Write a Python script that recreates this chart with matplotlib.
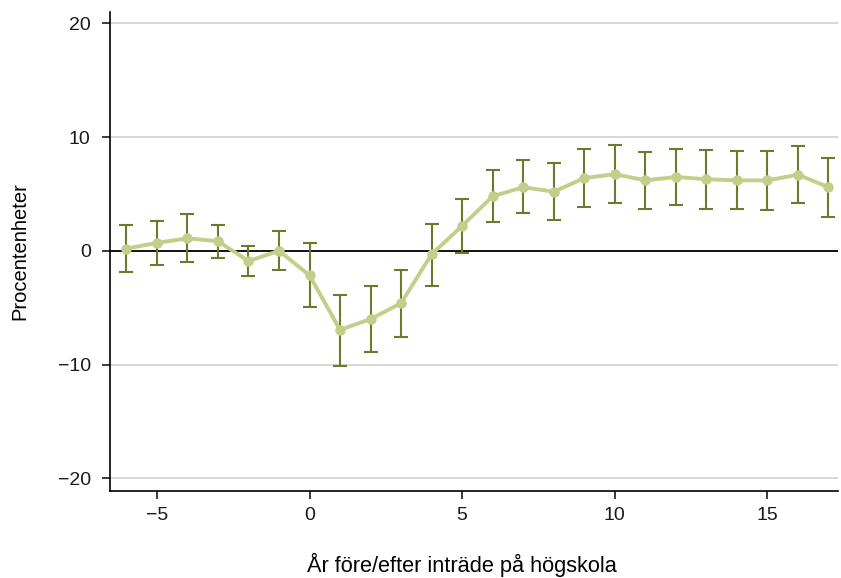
import matplotlib.pyplot as plt
import matplotlib

matplotlib.rcParams.update({'font.size': 14, 'font.family': ['Liberation Sans', 'DejaVu Sans']})

# Data
years = [-6, -5, -4, -3, -2, -1, 0, 1, 2, 3, 4, 5, 6, 7, 8, 9, 10, 11, 12, 13, 14, 15, 16, 17]
estimate = [0.2, 0.7, 1.1, 0.85, -0.9, 0.0, -2.15, -6.95, -6.0, -4.6, -0.3, 2.2, 4.8, 5.6,
            5.2, 6.4, 6.75, 6.2, 6.5, 6.3, 6.2, 6.2, 6.7, 5.6]
ci_upper = [2.3, 2.65, 3.2, 2.3, 0.47, 1.72, 0.7, -3.9, -3.1, -1.7, 2.4, 4.6, 7.1, 7.95,
            7.7, 8.95, 9.35, 8.7, 9.0, 8.9, 8.75, 8.8, 9.2, 8.2]
ci_lower = [-1.9, -1.26, -1.0, -0.65, -2.2, -1.68, -4.9, -10.1, -8.9, -7.6, -3.05, -0.2, 2.5, 3.35,
            2.7, 3.85, 4.25, 3.7, 4.05, 3.7, 3.65, 3.6, 4.2, 3.0]

yticks = [-20, -10, 0, 10, 20]
xticks = [-5, 0, 5, 10, 15]

fig = plt.figure(figsize=(8.41, 5.78), dpi=100)
ax = fig.add_axes([0.131, 0.151, 0.865, 0.829])

# grid lines
for t in yticks:
    if t != 0:
        ax.axhline(t, color='#d8d4cf', lw=1.3, zorder=0)
ax.axhline(0, color='black', lw=1.3, zorder=1)

err_low = [e - l for e, l in zip(estimate, ci_lower)]
err_high = [u - e for e, u in zip(estimate, ci_upper)]
ax.errorbar(years, estimate, yerr=[err_low, err_high], fmt='none',
            ecolor='#6b7a2c', elinewidth=1.5, capsize=5, capthick=1.5, zorder=2)
ax.plot(years, estimate, color='#c5cd8a', lw=2.8, marker='o', markersize=6.5, zorder=3)

ax.set_xlim(-6.53, 17.3)
ax.set_ylim(-21.1, 21.05)
ax.set_yticks(yticks)
ax.set_xticks(xticks)
ax.set_yticklabels(['\u221220', '\u221210', '0', '10', '20'])
ax.set_xticklabels(['\u22125', '0', '5', '10', '15'])

ax.spines['top'].set_visible(False)
ax.spines['right'].set_visible(False)
ax.spines['left'].set_linewidth(1.2)
ax.spines['bottom'].set_linewidth(1.2)
ax.tick_params(direction='out', length=6, width=1.2, labelsize=14, colors='#1a1a1a')
ax.tick_params(axis='y', pad=8)
ax.tick_params(axis='x', pad=6)

ax.set_ylabel('Procentenheter', fontsize=14.5, labelpad=20)
ax.set_xlabel('År före/efter inträde på högskola', fontsize=15.7)
ax.xaxis.set_label_coords(0.483, -0.129)

fig.savefig('out.png', dpi=100)
